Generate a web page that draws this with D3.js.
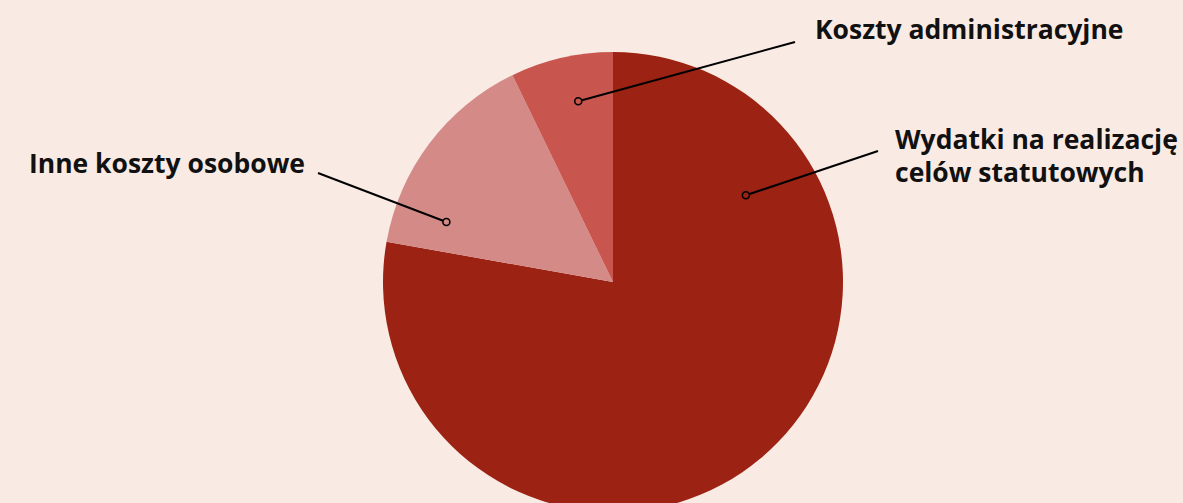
<!DOCTYPE html>
<html><head><meta charset="utf-8">
<script src="https://cdn.jsdelivr.net/npm/d3@7"></script>
<style>
html,body{margin:0;padding:0;background:#f9ebe4;}
svg{display:block;}
text{font-family:"Open Sans",sans-serif;font-weight:700;fill:#111;}
</style></head>
<body>
<svg id="c" width="1183" height="503"></svg>
<script>
const categories = ["Wydatki na realizację celów statutowych", "Inne koszty osobowe", "Koszty administracyjne"];
const values = [77.8, 15.0, 7.2];
const colors = ["#9c2313", "#d48a87", "#c8564f"];
const labelLines = [["Wydatki na realizację", "celów statutowych"], ["Inne koszty osobowe"], ["Koszty administracyjne"]];
// marker placement within each slice: fraction along slice angle, fraction of radius
const markerAngleFrac = [0.203, 0.18, 0.58];
const markerRadiusFrac = [0.69, 0.77, 0.80];

const W = 1183, H = 503;
const cx = 613, cy = 282, R = 230;
const svg = d3.select("#c");
const g = svg.append("g").attr("transform", `translate(${cx},${cy})`);

const pie = d3.pie().sort(null).value(d => d)(values);
const arc = d3.arc().innerRadius(0).outerRadius(R);

g.selectAll("path.slice").data(pie).join("path")
  .attr("class","slice")
  .attr("d", arc)
  .attr("fill", (d,i) => colors[i]);

// label layout (text anchor positions + line end), relative to center
const labelPos = [
  {lx: 265, ly: -131, tx: 282, ty: -133, anchor: "start"},
  {lx: -295, ly: -109, tx: -308, ty: -109, anchor: "end"},
  {lx: 182, ly: -240, tx: 202, ty: -243, anchor: "start"}
];

pie.forEach((d,i) => {
  const a = d.startAngle + (d.endAngle - d.startAngle) * markerAngleFrac[i];
  const r = R * markerRadiusFrac[i];
  const mx = Math.sin(a) * r, my = -Math.cos(a) * r;
  const p = labelPos[i];
  g.append("line").attr("x1", mx).attr("y1", my).attr("x2", p.lx).attr("y2", p.ly)
    .attr("stroke", "#000").attr("stroke-width", 2);
  g.append("circle").attr("cx", mx).attr("cy", my).attr("r", 3.5)
    .attr("fill", colors[i]).attr("stroke", "#000").attr("stroke-width", 1.6);
  const t = g.append("text").attr("text-anchor", p.anchor).attr("font-size", 26.5);
  labelLines[i].forEach((ln, j) => {
    t.append("tspan").attr("x", p.tx).attr("y", p.ty + j * 32.5).text(ln);
  });
});
</script>
</body></html>
